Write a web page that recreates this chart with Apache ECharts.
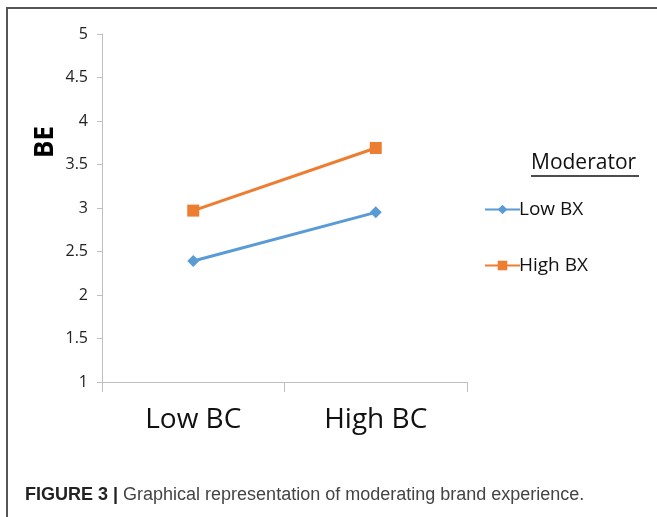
<!DOCTYPE html>
<html>
<head>
<meta charset="utf-8">
<script src="https://cdn.jsdelivr.net/npm/echarts@6/dist/echarts.min.js"></script>
<style>
  html, body { margin: 0; padding: 0; background: #fff; }
  #chart { width: 657px; height: 517px; }
</style>
</head>
<body>
<div id="chart"></div>
<script>
const categories = ['Low BC', 'High BC'];
const lowBX = [2.39, 2.95];
const highBX = [2.97, 3.69];
const seriesNames = ['Low BX', 'High BX'];

const myChart = echarts.init(document.getElementById('chart'));

const option = {
  animation: false,
  grid: { left: 102, right: 190, top: 34, bottom: 135, containLabel: false, outerBoundsMode: 'none' },
  legend: {
    orient: 'vertical',
    left: 479,
    top: 195,
    itemWidth: 35,
    itemHeight: 12,
    itemGap: 37,
    data: seriesNames,
    textStyle: { fontFamily: 'Open Sans', fontSize: 19, color: '#111', padding: [0, 0, 0, -6] }
  },
  xAxis: {
    type: 'category',
    data: categories,
    boundaryGap: true,
    axisLine: { lineStyle: { color: '#bfbfbf', width: 1 } },
    axisTick: { show: true, length: 10, lineStyle: { color: '#bfbfbf' } },
    axisLabel: { interval: 0, margin: 24, fontFamily: 'Open Sans', fontSize: 28, color: '#111' }
  },
  yAxis: {
    type: 'value',
    min: 1,
    max: 5,
    interval: 0.5,
    axisLine: { show: true, lineStyle: { color: '#bfbfbf', width: 1 } },
    axisTick: { show: true, length: 5, lineStyle: { color: '#bfbfbf' } },
    axisLabel: { margin: 14, fontFamily: 'Open Sans', fontSize: 16, color: '#222' },
    splitLine: { show: false }
  },
  series: [
    {
      name: seriesNames[0],
      type: 'line',
      data: lowBX,
      symbol: 'diamond',
      symbolSize: 12,
      itemStyle: { color: '#5B9BD5' },
      lineStyle: { color: '#5B9BD5', width: 3 }
    },
    {
      name: seriesNames[1],
      type: 'line',
      data: highBX,
      symbol: 'rect',
      symbolSize: 12,
      itemStyle: { color: '#ED7D31' },
      lineStyle: { color: '#ED7D31', width: 3 }
    }
  ],
  graphic: [
    {
      type: 'polyline',
      shape: { points: [[7, 517], [7, 8], [657, 8]] },
      style: { stroke: '#555', lineWidth: 2, fill: null }
    },
    {
      type: 'text',
      x: 46,
      y: 142,
      rotation: Math.PI / 2,
      style: { text: 'BE', font: 'bold 26px "Open Sans"', fill: '#000', align: 'center', verticalAlign: 'middle' }
    },
    {
      type: 'text',
      left: 531,
      top: 153,
      style: { text: 'Moderator', font: '21px "Open Sans"', fill: '#111' }
    },
    {
      type: 'line',
      shape: { x1: 531, y1: 176, x2: 639, y2: 176 },
      style: { stroke: '#111', lineWidth: 1.5 }
    },
    {
      type: 'text',
      left: 25,
      top: 486,
      style: {
        text: '{b|FIGURE 3 |} Graphical representation of moderating brand experience.',
        rich: {
          b: { fontFamily: 'Liberation Sans', fontWeight: 'bold', fontSize: 18, fill: '#222' }
        },
        font: '18px "Liberation Sans"',
        fill: '#444'
      }
    }
  ]
};

option && myChart.setOption(option);
</script>
</body>
</html>
